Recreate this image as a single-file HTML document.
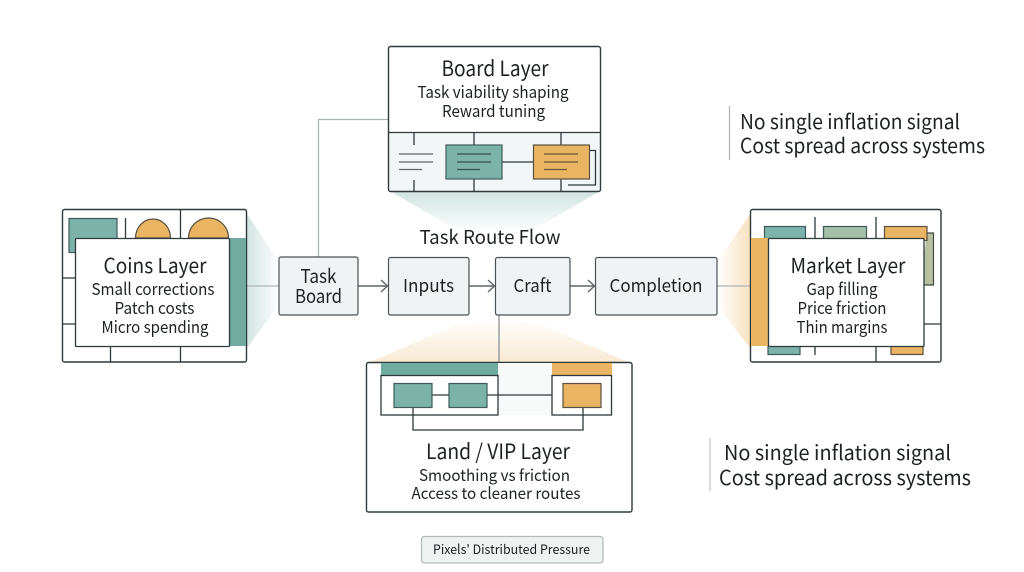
<!DOCTYPE html>
<html><head><meta charset="utf-8"><style>
html,body{margin:0;padding:0;background:#fff;width:1024px;height:572px;overflow:hidden}
svg{display:block}
text{font-family:"Liberation Sans","Noto Sans CJK JP",sans-serif;fill:#1e2123}
.n{font-family:"Noto Sans CJK JP","Liberation Sans",sans-serif}
.l{stroke:#2f383b;stroke-width:1.3;fill:none}
.g{stroke:#aeb3b3;stroke-width:1.3;fill:none}
.t{fill:#7bb3a9;stroke:#3f5a5a;stroke-width:1.2}
.o{fill:#e9b563;stroke:#5a5040;stroke-width:1.2}
.fb{fill:#f0f2f3;stroke:#4a5154;stroke-width:1.2}
</style></head><body>
<svg width="1024" height="572" viewBox="0 0 1024 572" xmlns="http://www.w3.org/2000/svg">
<defs>
<linearGradient id="ft" x1="0" y1="0" x2="0" y2="1"><stop offset="0" stop-color="#cfe3e0"/><stop offset="1" stop-color="#fff"/></linearGradient>
<linearGradient id="fl" x1="0" y1="0" x2="1" y2="0"><stop offset="0" stop-color="#d2e5e2"/><stop offset="1" stop-color="#fff"/></linearGradient>
<linearGradient id="fr" x1="1" y1="0" x2="0" y2="0"><stop offset="0" stop-color="#f7e2c0"/><stop offset="1" stop-color="#fff"/></linearGradient>
<linearGradient id="fb" x1="0" y1="1" x2="0" y2="0"><stop offset="0" stop-color="#f9ead3"/><stop offset="1" stop-color="#fff"/></linearGradient>
</defs>
<rect width="1024" height="572" fill="#fff"/>

<!-- funnels -->
<polygon points="390,191 600,191 530,232 460,232" fill="url(#ft)"/>
<polygon points="247,214 247,348 279,305 279,262" fill="url(#fl)"/>
<polygon points="750,214 750,348 717,305 717,262" fill="url(#fr)"/>
<polygon points="370,362 628,362 540,324 498,318 458,324" fill="url(#fb)"/>

<!-- connectors -->
<path class="g" d="M318.5 257V119.5H388"/>
<path class="g" d="M247 286H279"/>
<path class="g" d="M717 286H750"/>
<path d="M499 315V362" stroke="#8b9191" stroke-width="1.3" fill="none"/>
<g stroke="#5f6668" stroke-width="1.4" fill="none">
<path d="M358 286H387M381 280L387.5 286L381 292"/>
<path d="M469 286H494M488 280L494.5 286L488 292"/>
<path d="M570 286H594M588 280L594.5 286L588 292"/>
</g>

<!-- Board layer -->
<rect x="388.5" y="132" width="212" height="59" fill="#f3f6f6"/>
<rect x="388.5" y="46.5" width="212" height="145" rx="2" fill="none" stroke="#2f383b" stroke-width="1.4"/>
<path class="l" d="M388.5 132.5H600.5M414 132V145M414 180V191M474 132V145M474 179V191M561 132V145M561 179V191M502 162H533M590 150.500H595.500V185H568"/>
<rect class="t" x="446" y="145" width="56" height="34"/>
<rect class="o" x="533.500" y="145" width="56" height="34"/>
<g stroke-width="1.2" fill="none">
<path stroke="#5d6567" d="M399 154H433M399 162H433M399 169.500H422"/>
<path stroke="#33504f" d="M457 154H491M457 162H491M457 169.500H480"/>
<path stroke="#6a5535" d="M544 154H578M544 162H578M544 169.500H567"/>
</g>
<text class="n" x="495" y="76" font-size="21" text-anchor="middle" textLength="107" lengthAdjust="spacingAndGlyphs">Board Layer</text>
<text class="n" x="493" y="98" font-size="16.500" text-anchor="middle" textLength="151" lengthAdjust="spacingAndGlyphs">Task viability shaping</text>
<text class="n" x="493.500" y="117" font-size="16.500" text-anchor="middle" textLength="103" lengthAdjust="spacingAndGlyphs">Reward tuning</text>

<!-- Coins layer -->
<rect x="62.500" y="209.500" width="184" height="152.500" rx="2" fill="#fff" stroke="#2f383b" stroke-width="1.4"/>
<rect x="69" y="218.500" width="48" height="34" class="t"/>
<path class="l" d="M125.500 218V238M180.500 209V238M62 278H75M62 324H75M110.500 346V362M180.500 346V362"/>
<path class="o" d="M135.500 238A17.500 19 0 0 1 170.500 238Z"/>
<path class="o" d="M188.500 238A20 20 0 0 1 228.500 238Z"/>
<rect x="229" y="238" width="17" height="108" fill="#6fab9f"/>
<rect x="75.500" y="238.500" width="154" height="108" rx="1" fill="#fff" stroke="#2f383b" stroke-width="1.3"/>
<text class="n" x="155" y="273" font-size="20.500" text-anchor="middle" textLength="103" lengthAdjust="spacingAndGlyphs">Coins Layer</text>
<text class="n" x="153" y="295" font-size="16.500" text-anchor="middle" textLength="123" lengthAdjust="spacingAndGlyphs">Small corrections</text>
<text class="n" x="154.500" y="314" font-size="16.500" text-anchor="middle" textLength="80" lengthAdjust="spacingAndGlyphs">Patch costs</text>
<text class="n" x="155" y="333" font-size="16.500" text-anchor="middle" textLength="107" lengthAdjust="spacingAndGlyphs">Micro spending</text>

<!-- Flow -->
<text class="n" x="490" y="244" font-size="19" text-anchor="middle" textLength="141" lengthAdjust="spacingAndGlyphs">Task Route Flow</text>
<rect class="fb" x="279" y="257" width="79" height="58" rx="2"/>
<rect class="fb" x="388.500" y="257.500" width="80.500" height="57.500" rx="2"/>
<rect class="fb" x="495.500" y="257.500" width="74.500" height="57.500" rx="2"/>
<rect class="fb" x="595.500" y="257.500" width="121.500" height="57.500" rx="2"/>
<text class="n" x="318.500" y="283" font-size="19" text-anchor="middle" textLength="36" lengthAdjust="spacingAndGlyphs">Task</text>
<text class="n" x="318.500" y="303" font-size="19" text-anchor="middle" textLength="47" lengthAdjust="spacingAndGlyphs">Board</text>
<text class="n" x="428.500" y="292" font-size="18" text-anchor="middle" textLength="51" lengthAdjust="spacingAndGlyphs">Inputs</text>
<text class="n" x="532.500" y="292" font-size="18" text-anchor="middle" textLength="38" lengthAdjust="spacingAndGlyphs">Craft</text>
<text class="n" x="656" y="292" font-size="18" text-anchor="middle" textLength="93" lengthAdjust="spacingAndGlyphs">Completion</text>

<!-- Market layer -->
<rect x="750.500" y="209.500" width="190.500" height="152.500" rx="2" fill="#fff" stroke="#2f383b" stroke-width="1.4"/>
<rect x="764.500" y="226.500" width="41" height="14" class="t"/>
<rect x="823.500" y="226.500" width="43" height="14" fill="#a5bfa8" stroke="#3f5a5a" stroke-width="1.200"/>
<path d="M927 233H933.500V285H920" fill="#b6c0a0" stroke="#3f4a45" stroke-width="1.200"/>
<rect x="884.500" y="226.500" width="42.500" height="14" class="o"/>
<rect x="768" y="340" width="32" height="14.500" class="t"/>
<rect x="891" y="340" width="32" height="14.500" class="o"/>
<path class="l" d="M815 217V238M876 217V238M815 346V355M876 346V362M924 324H941"/>
<rect x="751" y="238" width="17" height="108" fill="#e9b563"/>
<rect x="768.500" y="238.500" width="155.500" height="108" rx="1" fill="#fff" stroke="#2f383b" stroke-width="1.300"/>
<text class="n" x="848" y="273" font-size="20.500" text-anchor="middle" textLength="115" lengthAdjust="spacingAndGlyphs">Market Layer</text>
<text class="n" x="842" y="295" font-size="16.500" text-anchor="middle" textLength="71" lengthAdjust="spacingAndGlyphs">Gap filling</text>
<text class="n" x="842" y="314" font-size="16.500" text-anchor="middle" textLength="89" lengthAdjust="spacingAndGlyphs">Price friction</text>
<text class="n" x="842" y="333" font-size="16.500" text-anchor="middle" textLength="91" lengthAdjust="spacingAndGlyphs">Thin margins</text>

<!-- Land layer -->
<rect x="366.500" y="362.500" width="265.500" height="149.500" rx="2" fill="#fff" stroke="#2f383b" stroke-width="1.400"/>
<rect x="381" y="363" width="231" height="52" fill="#f8f9f9"/>
<rect x="381" y="363" width="117" height="12.500" fill="#6fab9f"/>
<rect x="552" y="363" width="60" height="12.500" fill="#e9b563"/>
<rect x="381" y="375.500" width="117" height="39.500" fill="#fff" stroke="#2f383b" stroke-width="1.300"/>
<rect x="552" y="375.500" width="59.500" height="39.500" fill="#fff" stroke="#2f383b" stroke-width="1.300"/>
<path class="l" d="M432 395H449M487 395H552M413 407V430H583V407"/>
<rect class="t" x="394" y="383.500" width="38" height="24"/>
<rect class="t" x="449" y="383.500" width="38" height="24"/>
<rect class="o" x="563" y="383.500" width="38" height="24"/>
<text class="n" x="498" y="459" font-size="21" text-anchor="middle" textLength="144" lengthAdjust="spacingAndGlyphs">Land / VIP Layer</text>
<text class="n" x="494.500" y="481" font-size="16" text-anchor="middle" textLength="151" lengthAdjust="spacingAndGlyphs">Smoothing vs friction</text>
<text class="n" x="496" y="499" font-size="16" text-anchor="middle" textLength="169" lengthAdjust="spacingAndGlyphs">Access to cleaner routes</text>

<!-- Side notes -->
<path d="M729.500 106V160" stroke="#b5b8b8" stroke-width="1.300"/>
<text class="n" x="740" y="129" font-size="20.500" textLength="220" lengthAdjust="spacingAndGlyphs">No single inflation signal</text>
<text class="n" x="740" y="153" font-size="20.500" textLength="245" lengthAdjust="spacingAndGlyphs">Cost spread across systems</text>
<path d="M710 438V491" stroke="#c4c7c7" stroke-width="1.300"/>
<text class="n" x="724" y="460" font-size="20.500" textLength="227" lengthAdjust="spacingAndGlyphs">No single inflation signal</text>
<text class="n" x="719" y="485" font-size="20.500" textLength="252" lengthAdjust="spacingAndGlyphs">Cost spread across systems</text>

<!-- Badge -->
<rect x="421.500" y="536.500" width="181.500" height="26.500" rx="3" fill="#f0f2f1" stroke="#b5baba" stroke-width="1.300"/>
<text class="n" x="511.500" y="554" font-size="13" text-anchor="middle" textLength="157" lengthAdjust="spacingAndGlyphs">Pixels' Distributed Pressure</text>
</svg>
</body></html>
